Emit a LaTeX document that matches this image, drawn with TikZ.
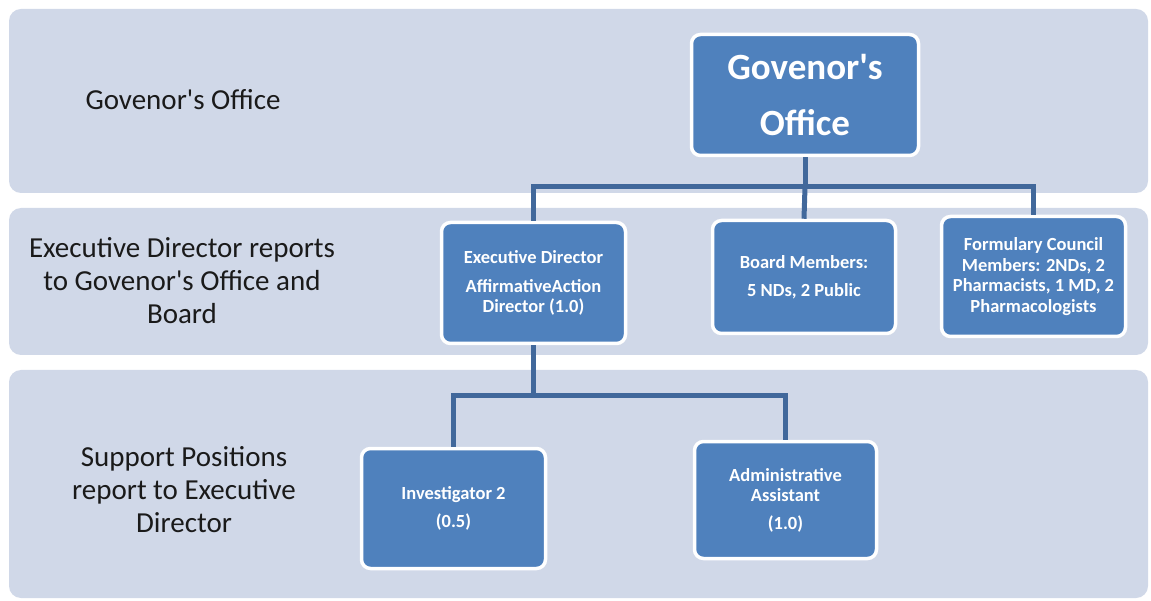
\documentclass[tikz,border=0pt]{standalone}
\usepackage{fontspec}
\setmainfont{Carlito}
\newfontfamily\calib{Carlito}
\definecolor{bandfill}{HTML}{D0D8E8}
\definecolor{boxfill}{HTML}{4F81BD}
\definecolor{connclr}{HTML}{41689B}
\definecolor{labclr}{HTML}{1A1A1A}
\begin{document}
\begin{tikzpicture}[x=1pt,y=-1pt,
  band/.style={fill=bandfill,rounded corners=12pt},
  orgbox/.style={rectangle,rounded corners=9pt,draw=white,line width=3.5pt,fill=boxfill,
    text=white,align=center,inner sep=0pt,font=\calib\bfseries\fontsize{18.5}{20}\selectfont},
  bandlabel/.style={text=labclr,align=center,font=\calib\fontsize{29}{33}\selectfont},
  conn/.style={draw=connclr,line width=5pt}]
\useasboundingbox[fill=white] (0,0) rectangle (1151,601);
% bands
\fill[band] (9,9) rectangle (1148,193);
\fill[band] (9,208) rectangle (1148,355);
\fill[band] (9,370) rectangle (1148,598);
% band labels
\node[bandlabel] (lab1) at (183,100) {Govenor's Office};
\node[bandlabel] (lab2) at (182,281) {Executive Director reports\\to Govenor's Office and\\Board};
\node[bandlabel] (lab3) at (184,490) {Support Positions\\report to Executive\\Director};
% junctions
\coordinate (j1) at (805,187);
\coordinate (j2) at (533.5,395);
% boxes
\node[orgbox,minimum width=227pt,minimum height=121pt,font=\calib\bfseries\fontsize{37}{56}\selectfont] (gov) at (805,95) {Govenor's\\Office};
\node[orgbox,minimum width=184pt,minimum height=121pt] (exec) at (533.5,283) {Executive Director\\[9pt]AffirmativeAction\\Director (1.0)};
\node[orgbox,minimum width=183pt,minimum height=113pt,font=\calib\bfseries\fontsize{18.5}{28}\selectfont] (board) at (804,277) {Board Members:\\5 NDs, 2 Public};
\node[orgbox,minimum width=184pt,minimum height=120pt,font=\calib\bfseries\fontsize{18.5}{20.5}\selectfont] (form) at (1033.5,276.5) {Formulary Council\\Members: 2NDs, 2\\Pharmacists, 1 MD, 2\\Pharmacologists};
\node[orgbox,minimum width=184pt,minimum height=120pt,font=\calib\bfseries\fontsize{18.5}{28}\selectfont] (inv) at (453.5,508.5) {Investigator 2\\(0.5)};
\node[orgbox,minimum width=182pt,minimum height=117pt] (admin) at (785.5,500) {Administrative\\Assistant\\[8pt](1.0)};
% connectors
\draw[conn] (gov.south) -- (j1);
\draw[conn] (j1) -| (exec.north);
\draw[conn] (j1) -- (board.north);
\draw[conn] (j1) -| (form.north);
\draw[conn] (exec.south) -- (j2);
\draw[conn] (j2) -| (inv.north);
\draw[conn] (j2) -| (admin.north);
\end{tikzpicture}
\end{document}
